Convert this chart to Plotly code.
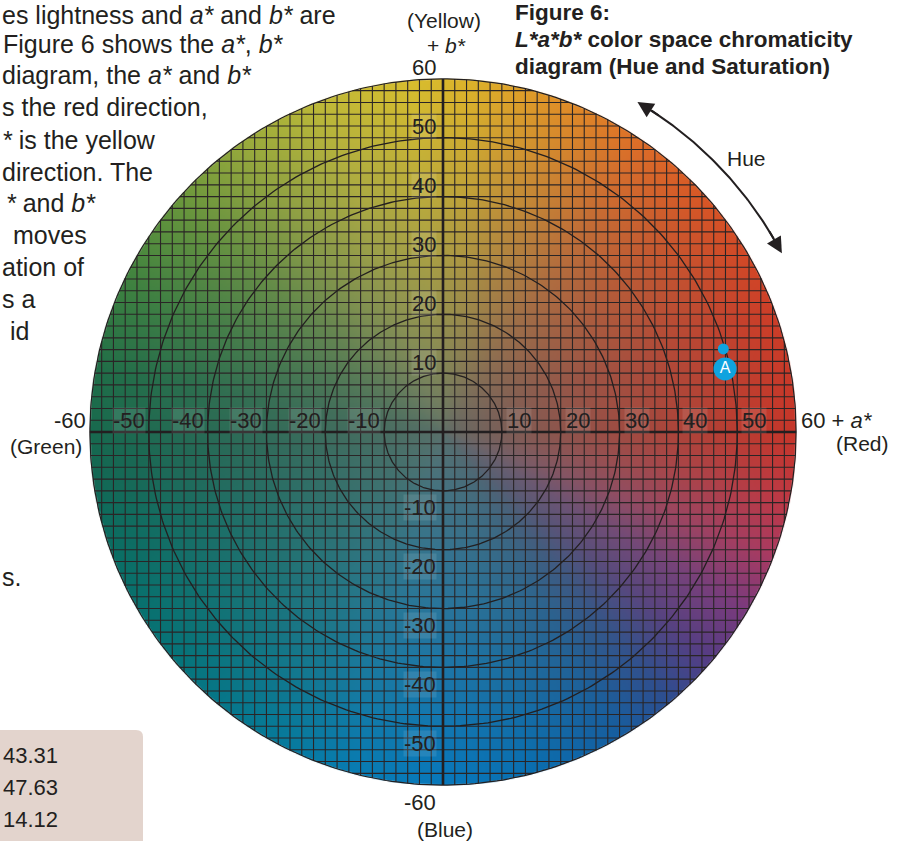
import numpy as np
import zlib, struct, base64
import plotly.graph_objects as go

# ---------------- data ----------------
L_star, a_star, b_star = 43.31, 47.63, 14.12          # sample "A"
axis_ticks = [-60, -50, -40, -30, -20, -10, 10, 20, 30, 40, 50, 60]
ring_radii = [10, 20, 30, 40, 50]
chroma_max = 60
grid_step = 2
hue_arc_deg = [59.5, 27.8]      # hue arrow extent (degrees)
hue_arc_r = 65.1

# rim colours by hue angle (style for the colour field)
rim_angles = [0, 20, 40, 55, 70, 85, 95, 110, 125, 140, 155, 170, 185, 200, 220,
              240, 255, 270, 285, 300, 310, 320, 330, 340, 350, 360]
rim_rgb = [(198, 54, 42), (206, 62, 40), (216, 84, 38), (222, 108, 40), (225, 143, 40),
           (222, 178, 42), (216, 190, 46), (192, 186, 56), (152, 170, 60), (102, 150, 60),
           (62, 130, 64), (32, 110, 72), (20, 104, 82), (10, 110, 100), (6, 116, 122),
           (6, 122, 152), (8, 124, 178), (8, 120, 188), (10, 110, 176), (22, 94, 160),
           (45, 78, 145), (88, 60, 132), (125, 58, 125), (172, 58, 96), (192, 56, 66),
           (198, 54, 42)]
center_rgb = np.array([94, 112, 106], float)

FONT = "Liberation Sans, Arial, Helvetica, sans-serif"
INK = "#231f20"
W, H = 902, 841
S = 5.885           # px per unit
CX, CY = 443, 432   # pixel centre


def png_uri(arr):
    h, w, _ = arr.shape
    raw = b"".join(b"\x00" + arr[i].tobytes() for i in range(h))

    def chunk(t, d):
        c = struct.pack(">I", len(d)) + t + d
        return c + struct.pack(">I", zlib.crc32(t + d) & 0xffffffff)
    png = b"\x89PNG\r\n\x1a\n" + chunk(b"IHDR", struct.pack(">IIBBBBB", w, h, 8, 6, 0, 0, 0)) \
        + chunk(b"IDAT", zlib.compress(raw, 9)) + chunk(b"IEND", b"")
    return "data:image/png;base64," + base64.b64encode(png).decode()


# colour field
N = 480
coords = (np.arange(N) + 0.5) / N * 2 * chroma_max - chroma_max
A, B = np.meshgrid(coords, coords[::-1])
R = np.hypot(A, B)
TH = np.degrees(np.arctan2(B, A)) % 360
rim = np.stack([np.interp(TH, rim_angles, [c[k] for c in rim_rgb]) for k in range(3)], -1)
w = np.clip(R / chroma_max, 0, 1) ** 0.7
rgb = center_rgb + (rim - center_rgb) * w[..., None]
alpha = np.clip((chroma_max - R) / (2 * chroma_max / N) + 0.5, 0, 1) * 255
img = np.dstack([np.clip(rgb, 0, 255), alpha]).astype(np.uint8)

fig = go.Figure()

# grid lines
gx, gy = [], []
for v in np.arange(-chroma_max + grid_step, chroma_max, grid_step):
    if v == 0:
        continue
    h = np.sqrt(chroma_max ** 2 - v ** 2)
    gx += [v, v, None, -h, h, None]
    gy += [-h, h, None, v, v, None]
fig.add_trace(go.Scatter(x=gx, y=gy, mode="lines", line=dict(color="#2a2526", width=1.1),
                         hoverinfo="skip", showlegend=False))

# rings
t = np.linspace(0, 2 * np.pi, 400)
for rr in ring_radii:
    fig.add_trace(go.Scatter(x=rr * np.cos(t), y=rr * np.sin(t), mode="lines",
                             line=dict(color=INK, width=1.3), hoverinfo="skip", showlegend=False))
fig.add_trace(go.Scatter(x=chroma_max * np.cos(t), y=chroma_max * np.sin(t), mode="lines",
                         line=dict(color=INK, width=1.2), hoverinfo="skip", showlegend=False))

# axes
fig.add_trace(go.Scatter(x=[-chroma_max, chroma_max, None, 0, 0], y=[0, 0, None, -chroma_max, chroma_max],
                         mode="lines", line=dict(color=INK, width=2.6), hoverinfo="skip", showlegend=False))

# hue arc
ta = np.radians(np.linspace(hue_arc_deg[0] - 2.5, hue_arc_deg[1] + 2.5, 100))
fig.add_trace(go.Scatter(x=hue_arc_r * np.cos(ta), y=hue_arc_r * np.sin(ta), mode="lines",
                         line=dict(color=INK, width=2), hoverinfo="skip", showlegend=False))

# point A
fig.add_trace(go.Scatter(x=[a_star], y=[b_star], mode="markers",
                         marker=dict(size=11, color="#0fa3df"), showlegend=False))
fig.add_trace(go.Scatter(x=[a_star + 0.3], y=[b_star - 3.4], mode="markers+text", text=["A"],
                         textposition="middle center",
                         textfont=dict(color="white", size=16, family=FONT),
                         marker=dict(size=23, color="#0fa3df"), showlegend=False))

ann = []
lab_bg = "rgba(255,255,255,0.10)"
for v in axis_ticks:
    # horizontal axis labels
    if v < 0:
        ann.append(dict(x=v, y=0, xref="x", yref="y", text=str(v), showarrow=False,
                        xanchor="right", yanchor="middle", xshift=-3, yshift=12,
                        font=dict(size=22, color=INK, family=FONT),
                        bgcolor=lab_bg if v > -60 else None, borderpad=0))
    else:
        txt = str(v) if v < 60 else "60 + <i>a*</i>"
        ann.append(dict(x=v, y=0, xref="x", yref="y", text=txt, showarrow=False,
                        xanchor="left", yanchor="middle", xshift=4, yshift=12,
                        font=dict(size=22, color=INK, family=FONT),
                        bgcolor=lab_bg if v < 60 else None, borderpad=0))
    # vertical axis labels
    ann.append(dict(x=0, y=v, xref="x", yref="y", text=str(v), showarrow=False,
                    xanchor="right", yanchor="middle", xshift=-6,
                    yshift=11 if v > 0 else -17,
                    font=dict(size=22, color=INK, family=FONT),
                    bgcolor=lab_bg if abs(v) < 60 else None, borderpad=0))


def pann(px, py, text, size=21, xanchor="center"):
    ann.append(dict(x=px / W, y=1 - py / H, xref="paper", yref="paper", text=text, showarrow=False,
                    xanchor=xanchor, yanchor="middle", font=dict(size=size, color=INK, family=FONT)))


pann(444, 20, "(Yellow)")
pann(446, 45, "+ <i>b*</i>")
pann(445, 829, "(Blue)")
pann(46, 446, "(Green)")
pann(862, 443, "(Red)")
pann(746, 158, "Hue")

# title
pann(513, 13, "<b>Figure 6:</b>", size=22.5, xanchor="left")
pann(513, 39, "<b><i>L*a*b*</i> color space chromaticity</b>", size=22.5, xanchor="left")
pann(513, 66, "<b>diagram (Hue and Saturation)</b>", size=22.5, xanchor="left")

# surrounding body text fragments
body = [(0, 15, "es lightness and <i>a*</i> and <i>b*</i> are"),
        (1, 44, "Figure 6 shows the <i>a*</i>, <i>b*</i>"),
        (0, 75, "diagram, the <i>a*</i> and <i>b*</i>"),
        (0, 107, "s the red direction,"),
        (0, 140, "<i>*</i> is the yellow"),
        (0, 172, "direction. The"),
        (4, 203, "<i>*</i> and <i>b*</i>"),
        (11, 235, "moves"),
        (0, 267, "ation of"),
        (0, 299, "s a"),
        (8, 331, "id"),
        (0, 577, "s.")]
for bx, by, bt in body:
    pann(bx, by, bt, size=25, xanchor="left")

# table values
for i, val in enumerate([L_star, a_star, b_star]):
    pann(1, 755 + 32 * i, f"{val:.2f}", size=22, xanchor="left")

# hue arrowheads
for tip, back in [(hue_arc_deg[0], hue_arc_deg[0] - 4), (hue_arc_deg[1], hue_arc_deg[1] + 4)]:
    ann.append(dict(x=hue_arc_r * np.cos(np.radians(tip)), y=hue_arc_r * np.sin(np.radians(tip)),
                    ax=hue_arc_r * np.cos(np.radians(back)), ay=hue_arc_r * np.sin(np.radians(back)),
                    xref="x", yref="y", axref="x", ayref="y", text="", showarrow=True,
                    arrowhead=2, arrowsize=1.6, arrowwidth=2, arrowcolor=INK))

# table box (rounded top-right corner)
x1, y0, rad = 143 / W, 1 - 730 / H, 7
box = (f"M -0.01,{y0} L {(143 - rad) / W},{y0} Q {x1},{y0} {x1},{1 - (730 + rad) / H} "
       f"L {x1},-0.01 L -0.01,-0.01 Z")
shapes = [dict(type="path", path=box, xref="paper", yref="paper", fillcolor="#e3d4cd",
               line=dict(width=0), layer="below")]

fig.update_layout(
    width=W, height=H, margin=dict(l=0, r=0, t=0, b=0),
    paper_bgcolor="white", plot_bgcolor="rgba(0,0,0,0)",
    xaxis=dict(range=[-CX / S, (W - CX) / S], visible=False, fixedrange=True),
    yaxis=dict(range=[(CY - H) / S, CY / S], visible=False, fixedrange=True),
    annotations=ann, shapes=shapes,
    images=[dict(source=png_uri(img), xref="x", yref="y", x=-chroma_max, y=chroma_max,
                 sizex=2 * chroma_max, sizey=2 * chroma_max, sizing="stretch",
                 xanchor="left", yanchor="top", layer="below")],
    showlegend=False,
)

fig.write_html("out.html", config={"displayModeBar": False},
               post_script="document.body.style.margin='0';document.body.style.overflow='hidden';")
